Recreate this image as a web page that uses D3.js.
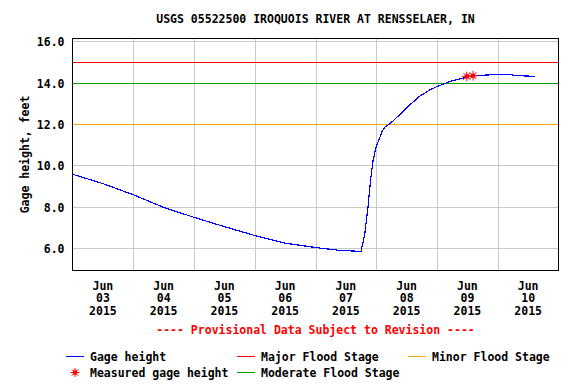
<!DOCTYPE html>
<html>
<head>
<meta charset="utf-8">
<script src="https://cdn.jsdelivr.net/npm/d3@7"></script>
<style>
  body { margin: 0; background: #fff; }
  text { font-family: "DejaVu Sans Mono", monospace; font-weight: bold; font-size: 11.5px; }
</style>
</head>
<body>
<svg id="chart"></svg>
<script>
const width = 576, height = 384;

// gage height readings (feet)
const times = [
  "2015-06-03T00:00", "2015-06-03T12:00", "2015-06-04T00:00", "2015-06-04T12:00",
  "2015-06-05T00:00", "2015-06-05T12:00", "2015-06-06T00:00", "2015-06-06T12:00",
  "2015-06-07T00:00", "2015-06-07T09:00", "2015-06-07T18:00", "2015-06-07T19:30",
  "2015-06-07T20:45", "2015-06-07T21:45", "2015-06-07T22:45", "2015-06-08T00:00",
  "2015-06-08T02:15", "2015-06-08T03:30", "2015-06-08T05:30", "2015-06-08T09:30",
  "2015-06-08T13:30", "2015-06-08T17:15", "2015-06-08T21:15", "2015-06-09T00:15",
  "2015-06-09T05:15", "2015-06-09T09:15", "2015-06-09T13:00", "2015-06-09T19:45",
  "2015-06-10T05:30", "2015-06-10T06:15", "2015-06-10T11:30", "2015-06-10T14:45"
];
const gageHeight = [
  9.57, 9.12, 8.58, 7.97,
  7.49, 7.04, 6.61, 6.24,
  6.03, 5.90, 5.84, 6.72,
  8.00, 9.29, 10.25, 10.90,
  11.62, 11.86, 12.02, 12.48,
  12.95, 13.35, 13.65, 13.82,
  14.06, 14.19, 14.30, 14.37,
  14.38, 14.33, 14.32, 14.29
];

// field measurements
const measuredTimes = ["2015-06-09T11:45", "2015-06-09T14:15"];
const measuredHeights = [14.30, 14.33];

// flood stages
const stageNames = ["Major Flood Stage", "Moderate Flood Stage", "Minor Flood Stage"];
const stageValues = [15, 14, 12];
const stageColors = ["#ff0000", "#00a000", "#ffa500"];

const yTicks = [6, 8, 10, 12, 14, 16];
const dayTicks = ["2015-06-03", "2015-06-04", "2015-06-05", "2015-06-06",
                  "2015-06-07", "2015-06-08", "2015-06-09", "2015-06-10"];

const parse = d3.timeParse("%Y-%m-%dT%H:%M");
const parseDay = d3.timeParse("%Y-%m-%d");

const data = times.map((t, i) => ({ date: parse(t), value: gageHeight[i] }));
const measured = measuredTimes.map((t, i) => ({ date: parse(t), value: measuredHeights[i] }));

const plot = { left: 72.5, right: 558.5, top: 38.5, bottom: 270.5 };

const x = d3.scaleTime()
  .domain([parseDay("2015-06-03"), parseDay("2015-06-11")])
  .range([plot.left, plot.right]);

const y = d3.scaleLinear()
  .domain([4.92, 16.13])
  .range([plot.bottom, plot.top]);

const svg = d3.select("#chart").attr("width", width).attr("height", height);

// title
svg.append("text")
  .attr("x", (plot.left + plot.right) / 2)
  .attr("y", 23)
  .attr("text-anchor", "middle")
  .text("USGS 05522500 IROQUOIS RIVER AT RENSSELAER, IN");

// horizontal grid
svg.append("g").selectAll("line")
  .data(yTicks)
  .join("line")
  .attr("x1", plot.left).attr("x2", plot.right)
  .attr("y1", d => Math.round(y(d)) + 0.5).attr("y2", d => Math.round(y(d)) + 0.5)
  .attr("stroke", "#c8c8c8")
  .attr("shape-rendering", "crispEdges");

// vertical grid at midnight
svg.append("g").selectAll("line")
  .data(dayTicks.slice(1))
  .join("line")
  .attr("x1", d => Math.round(x(parseDay(d))) + 0.5).attr("x2", d => Math.round(x(parseDay(d))) + 0.5)
  .attr("y1", plot.top).attr("y2", plot.bottom)
  .attr("stroke", "#c8c8c8")
  .attr("shape-rendering", "crispEdges");

// flood stage lines
svg.append("g").selectAll("line")
  .data(stageValues)
  .join("line")
  .attr("x1", plot.left).attr("x2", plot.right)
  .attr("y1", d => Math.round(y(d)) + 0.5).attr("y2", d => Math.round(y(d)) + 0.5)
  .attr("stroke", (d, i) => stageColors[i])
  .attr("shape-rendering", "crispEdges");

// y tick labels
svg.append("g").selectAll("text")
  .data(yTicks)
  .join("text")
  .attr("x", 64.5)
  .attr("y", d => y(d) + 5)
  .attr("text-anchor", "end")
  .text(d => d.toFixed(1));

// y axis title
svg.append("text")
  .attr("transform", `translate(28.5, ${(plot.top + plot.bottom) / 2}) rotate(-90)`)
  .attr("text-anchor", "middle")
  .text("Gage height, feet");

// x tick labels, centred on noon
const fmtMon = d3.timeFormat("%b"), fmtDay = d3.timeFormat("%d"), fmtYr = d3.timeFormat("%Y");
const xl = svg.append("g").selectAll("text")
  .data(dayTicks.map(parseDay))
  .join("text")
  .attr("text-anchor", "middle")
  .attr("transform", d => `translate(${x(d3.timeHour.offset(d, 12))}, 0)`);
xl.append("tspan").attr("x", 0).attr("y", 289.5).text(fmtMon);
xl.append("tspan").attr("x", 0).attr("y", 302.3).text(fmtDay);
xl.append("tspan").attr("x", 0).attr("y", 315).text(fmtYr);

// gage height line
const line = d3.line().x(d => x(d.date)).y(d => y(d.value));
svg.append("path")
  .datum(data)
  .attr("d", line)
  .attr("fill", "none")
  .attr("stroke", "#0000ff")
  .attr("stroke-width", 1.2)
  .attr("shape-rendering", "crispEdges");

// asterisk marker
function star(g, cx, cy, r) {
  const s = g.append("g").attr("transform", `translate(${cx},${cy})`);
  [0, 45, 90, 135].forEach(a => {
    const dx = Math.cos(a * Math.PI / 180) * r, dy = Math.sin(a * Math.PI / 180) * r;
    s.append("line")
      .attr("x1", -dx).attr("y1", -dy).attr("x2", dx).attr("y2", dy)
      .attr("stroke", "#ff0000").attr("stroke-width", 1);
  });
  s.append("rect").attr("x", -2).attr("y", -2).attr("width", 4).attr("height", 4).attr("fill", "#ff0000");
}
measured.forEach(d => star(svg, x(d.date), y(d.value), 4.8));

// frame
svg.append("rect")
  .attr("x", plot.left).attr("y", plot.top)
  .attr("width", plot.right - plot.left).attr("height", plot.bottom - plot.top)
  .attr("fill", "none").attr("stroke", "#000")
  .attr("shape-rendering", "crispEdges");

// provisional note
svg.append("text")
  .attr("x", (plot.left + plot.right) / 2)
  .attr("y", 333.5)
  .attr("text-anchor", "middle")
  .attr("fill", "#ff0000")
  .text("---- Provisional Data Subject to Revision ----");

// legend
const legend = [
  { label: "Gage height", color: "#0000ff", x: 66, y: 356.5 },
  { label: stageNames[0], color: stageColors[0], x: 237, y: 356.5 },
  { label: stageNames[2], color: stageColors[2], x: 408, y: 356.5 },
  { label: "Measured gage height", color: "#ff0000", x: 66, y: 372.5, marker: true },
  { label: stageNames[1], color: stageColors[1], x: 237, y: 372.5 }
];
legend.forEach(d => {
  if (d.marker) {
    star(svg, d.x + 9, d.y, 4.5);
  } else {
    svg.append("line")
      .attr("x1", d.x).attr("x2", d.x + 18)
      .attr("y1", d.y).attr("y2", d.y)
      .attr("stroke", d.color)
      .attr("shape-rendering", "crispEdges");
  }
  svg.append("text")
    .attr("x", d.x + 24)
    .attr("y", d.y + 4)
    .text(d.label);
});
</script>
</body>
</html>
